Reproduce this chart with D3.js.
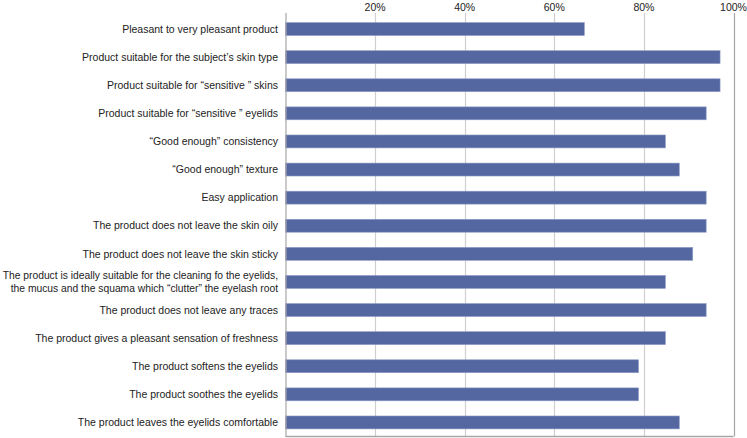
<!DOCTYPE html>
<html><head><meta charset="utf-8">
<script src="https://cdn.jsdelivr.net/npm/d3@7"></script>
<style>body{margin:0;background:#fff}svg{display:block}</style>
</head><body>
<script>
const categories = [
  ["Pleasant to very pleasant product"],
  ["Product suitable for the subject\u2019s skin type"],
  ["Product suitable for \u201csensitive \u201d skins"],
  ["Product suitable for \u201csensitive \u201d eyelids"],
  ["\u201cGood enough\u201d consistency"],
  ["\u201cGood enough\u201d texture"],
  ["Easy application"],
  ["The product does not leave the skin oily"],
  ["The product does not leave the skin sticky"],
  ["The product is ideally suitable for the cleaning fo the eyelids,", "the mucus and the squama which \u201cclutter\u201d  the eyelash root"],
  ["The product does not leave any traces"],
  ["The product gives a pleasant sensation of freshness"],
  ["The product softens the eyelids"],
  ["The product soothes the eyelids"],
  ["The product leaves the eyelids comfortable"]
];
const values = [66.7, 97.0, 97.0, 93.9, 84.8, 87.9, 93.9, 93.9, 90.9, 84.8, 93.9, 84.8, 78.8, 78.8, 87.9];
const ticks = [20, 40, 60, 80, 100];

const W = 747, H = 438;
const m = {left: 285.5, right: 733.5, top: 15, bottom: 436.5};
const svg = d3.select("body").append("svg").attr("width", W).attr("height", H);

const x = d3.scaleLinear().domain([0, 100]).range([m.left, m.right]);
const y = d3.scaleBand().domain(d3.range(categories.length)).range([m.top, m.bottom]).paddingInner(0.54).paddingOuter(0.27);

// gridlines
svg.append("g").selectAll("line").data(ticks).join("line")
  .attr("x1", d => Math.round(x(d)) + 0.5).attr("x2", d => Math.round(x(d)) + 0.5)
  .attr("y1", m.top - 2).attr("y2", m.bottom)
  .attr("stroke", d => d === 100 ? "#a6a6a6" : "#cfcfcf").attr("stroke-width", 1.2);

// plot frame
svg.append("line").attr("x1", m.left).attr("x2", m.right).attr("y1", m.bottom).attr("y2", m.bottom)
  .attr("stroke", "#a6a6a6").attr("stroke-width", 1.5);

// bars
svg.append("g").selectAll("rect").data(values).join("rect")
  .attr("x", x(0)).attr("y", (d, i) => y(i))
  .attr("width", d => x(d) - x(0)).attr("height", y.bandwidth())
  .attr("fill", "#5567a1").attr("stroke", "#8e9cc6").attr("stroke-width", 0.6);

// left axis line
svg.append("line").attr("x1", m.left + 0.5).attr("x2", m.left + 0.5).attr("y1", m.top - 2).attr("y2", m.bottom)
  .attr("stroke", "#a6a6a6").attr("stroke-width", 1.2);

// top tick labels
svg.append("g").selectAll("text").data(ticks).join("text")
  .attr("x", d => x(d)).attr("y", 11)
  .attr("text-anchor", "middle")
  .attr("font-family", "Liberation Sans, Arial, sans-serif").attr("font-size", 10.5).attr("fill", "#222")
  .text(d => d + "%");

// category labels
const lab = svg.append("g").selectAll("text").data(categories).join("text")
  .attr("text-anchor", "end")
  .attr("font-family", "Liberation Sans, Arial, sans-serif")
  .attr("font-size", d => d.length > 1 ? 10.3 : 10.5).attr("fill", "#222")
  .attr("transform", (d, i) => `translate(${m.left - 7.5},${y(i) + y.bandwidth() / 2})`);
lab.each(function(lines) {
  const t = d3.select(this);
  const n = lines.length;
  lines.forEach((s, k) => {
    t.append("tspan").attr("x", 0).attr("y", (k - (n - 1) / 2) * 13).attr("dy", "0.35em").text(s);
  });
});
</script>
</body></html>
